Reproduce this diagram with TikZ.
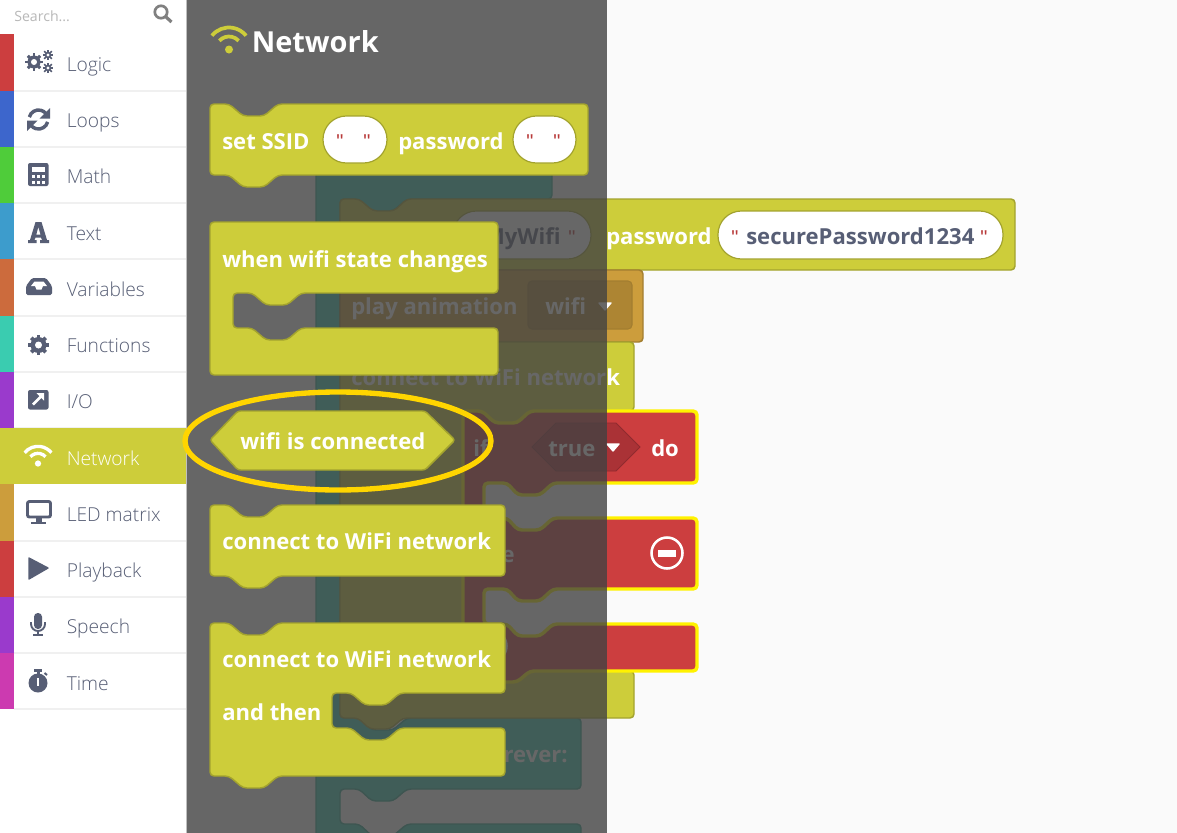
\documentclass[tikz,border=0pt]{standalone}
\usepackage{fontspec}
\setmainfont{Open Sans}
\newfontfamily\lightf{Open Sans Light}
\newfontfamily\qf{Liberation Sans}
\definecolor{icon}{HTML}{575E75}
\definecolor{netc}{HTML}{CDCD3A}
\definecolor{nets}{HTML}{A3A32E}
\definecolor{tealc}{HTML}{3ACCB0}
\definecolor{teals}{HTML}{2EA38D}
\definecolor{orac}{HTML}{CC9D3C}
\definecolor{oras}{HTML}{A37E30}
\definecolor{orad}{HTML}{AD8533}
\definecolor{redc}{HTML}{CC3E3F}
\definecolor{redd}{HTML}{AA3236}
\definecolor{selc}{HTML}{FFF200}
\definecolor{gold}{HTML}{FFD500}
\definecolor{quot}{HTML}{B83A3A}
\tikzset{
  x=0.75pt,y=-0.75pt,
  blk/.style={fill=netc,draw=nets,line width=1.1pt,rounded corners=3pt},
  tealblk/.style={fill=tealc,draw=teals,line width=1.1pt,rounded corners=3pt},
  orablk/.style={fill=orac,draw=oras,line width=1.1pt,rounded corners=3pt},
  redblk/.style={fill=redc,draw=selc,line width=2.6pt,rounded corners=3pt},
  field/.style={fill=white,draw=nets,line width=0.9pt,rounded corners=17.5pt},
  btxt/.style={anchor=base west,inner sep=0pt,text=white,font=\fontsize{16.55pt}{20pt}\bfseries},
  ftxt/.style={btxt,text=icon},
  qt/.style={anchor=base,inner sep=0pt,text=quot,font=\fontsize{15pt}{18pt}\qf},
  side/.style={anchor=base west,inner sep=0pt,text=icon,font=\fontsize{14.4pt}{17pt}\lightf},
  sep/.style={draw=black!6!white,line width=0.9pt},
  tri/.style={fill=white,draw=white,line width=1pt,line join=round},
}
\newcommand\stackblock[6]{% style, x, y, w, h, id (unused)
  \draw[#1] (#2,#3) -- ++(19,0) -- ++(14,12) -- ++(21,0) -- ++(14,-12) -- (#2+#4,#3) -- (#2+#4,#3+#5)
     -- (#2+68,#3+#5) -- ++(-14,12) -- ++(-21,0) -- ++(-14,-12) -- (#2,#3+#5) -- cycle;}
\newcommand\wifiicon[5]{% x,y(dot),scale,colour,width
  \fill[#4] (#1,#2) circle ({4*#3});
  \draw[#4,line width=#5] (#1,#2) ++(219:{22*#3}) arc (219:321:{22*#3});
  \draw[#4,line width=#5] (#1,#2) ++(222:{13*#3}) arc (222:318:{13*#3});}
\newcommand\gearicon[5]{% x,y,r,hole,teeth width
  \foreach \a in {0,45,...,315}{\draw[icon,line width=#5] (#1,#2) -- ++(\a:{#3+2.2});}
  \fill[icon] (#1,#2) circle (#3);
  \fill[white] (#1,#2) circle (#4);}
\begin{document}
\begin{tikzpicture}
\useasboundingbox (0,0) rectangle (1177,832);
\fill[white] (-5,-5) rectangle (1185,840);
\fill[black!2!white] (187,-5) rectangle (1185,840);
% ---------- workspace blocks (beneath the flyout) ----------
\draw[tealblk] (316,130) -- (552,130) -- (552,199) -- (407,199) -- (393,211) -- (372,211) -- (359,199) -- (340,199)
  -- (340,718) -- (359,718) -- (372,730) -- (393,730) -- (407,718) -- (581,718) -- (581,789)
  -- (407,789) -- (393,801) -- (372,801) -- (359,789) -- (340,789) -- (340,824) -- (359,824)
  -- (372,836) -- (393,836) -- (407,824) -- (581,824) -- (581,838) -- (316,838) -- cycle;
\node[btxt,anchor=base east] (foreverlbl) at (568,762) {forever:};
% set SSID
\draw[blk] (340,199) -- (359,199) -- (373,211) -- (394,211) -- (407,199) -- (1015,199) -- (1015,270) -- (340,270) -- cycle;
\draw[field] (453,211) rectangle (591,259);
\node[ftxt,anchor=base east] (mywifi) at (561,244) {MyWifi};
\node[qt] (q1) at (572,244) {"};
\node[btxt] (pw2) at (606,244) {password};
\draw[field] (718,211) rectangle (1003,259);
\node[qt] (q2) at (735,244) {"};
\node[ftxt] (secpw) at (746,244) {securePassword1234};
\node[qt] (q3) at (984,244) {"};
% play animation
\draw[orablk] (340,270) rectangle (643,342);
\draw[fill=orad,draw=oras,line width=.8pt,rounded corners=3pt] (528,281) rectangle (632,329);
\node[btxt] (playanim) at (351,314) {play animation};
\node[btxt] (wifiopt) at (545,314) {wifi};
\draw[tri] (599,303) -- (611,303) -- (605,310) -- cycle;
% connect C block
\draw[blk] (340,342) -- (634,342) -- (634,411) -- (530,411) -- (517,423) -- (495,423) -- (482,411) -- (463,411)
  -- (463,671) -- (482,671) -- (495,682) -- (517,682) -- (530,671) -- (634,671) -- (634,718)
  -- (403,718) -- (390,729) -- (370,729) -- (358,718) -- (340,718) -- cycle;
\node[btxt] (connbg) at (351,385) {connect to WiFi network};
% red if/else block
\draw[redblk] (463,411) -- (482,411) -- (495,423) -- (517,423) -- (530,411) -- (697,411) -- (697,483)
  -- (553,483) -- (540,495) -- (518,495) -- (507,483) -- (484,483) -- (484,518) -- (507,518)
  -- (518,530) -- (540,530) -- (553,518) -- (697,518) -- (697,589) -- (553,589) -- (540,601)
  -- (518,601) -- (507,589) -- (484,589) -- (484,624) -- (507,624) -- (518,636) -- (540,636)
  -- (553,624) -- (697,624) -- (697,671) -- (530,671) -- (517,682) -- (495,682) -- (482,671) -- (463,671) -- cycle;
\draw[fill=redd,draw=redd!85!black,line width=.6pt] (532,447) -- (556,423) -- (616,423) -- (640,447) -- (616,471) -- (556,471) -- cycle;
\node[btxt] (iflbl) at (473,456) {if};
\node[btxt] (truelbl) at (548,456) {true};
\draw[tri] (607,444) -- (619,444) -- (613,451) -- cycle;
\node[btxt] (dolbl) at (651,456) {do};
\node[btxt,anchor=base east] (elselbl) at (515,562) {else};
\draw[white,line width=1.9pt] (667,553) circle (15.5);
\fill[white] (658,549.5) rectangle (676,556.5);
\draw[white,line width=1.9pt] (491,646) circle (15.5);
% ---------- flyout veil ----------
\fill[black!74!white,fill opacity=0.8] (187,-5) rectangle (607,840);
% ---------- sidebar ----------
\fill[white] (-5,-5) rectangle (186,840);
\draw[black!25!white,line width=.75pt] (186.5,-5) -- (186.5,840);
\node[anchor=base west,inner sep=0pt,text=black!28!white,font=\fontsize{10.6pt}{13pt}\selectfont] (search) at (14,21) {Search...};
\draw[black!50!white,line width=2pt] (161,12) circle (6.2);
\draw[black!50!white,line width=2.4pt] (165.5,16.5) -- (171.5,22);
\foreach \ya/\yb/\c/\nm in {34/91/CC3E3F/a,91/147/3D66CC/b,147/203/4FCC3A/c,203/259/3D9CCC/d,259/316/CC6B3D/e,316/372/3ACCB0/f,372/428/9A3ACC/g,484/541/CC9D3C/h,541/597/CC3E3F/i,597/653/9A3ACC/j,653/709/CC3AB0/k}{
  \definecolor{tmpc}{HTML}{\c}
  \fill[tmpc] (0,\ya) rectangle (14,\yb);
  \draw[sep] (14,\yb) -- (186,\yb);
}
\fill[netc] (0,428) rectangle (186,484);
\node[side] (logic) at (66.5,71) {Logic};
\node[side] (loops) at (66.5,127) {Loops};
\node[side] (math) at (66.5,183) {Math};
\node[side] (text) at (66.5,240) {Text};
\node[side] (vars) at (66.5,296) {Variables};
\node[side] (funcs) at (66.5,352) {Functions};
\node[side] (io) at (66.5,408) {I/O};
\node[side,text=white] (netw) at (66.5,465) {Network};
\node[side] (led) at (66.5,521) {LED matrix};
\node[side] (playb) at (66.5,577) {Playback};
\node[side] (speech) at (66.5,633) {Speech};
\node[side] (time) at (66.5,690) {Time};
% icons
\gearicon{34}{62}{6.5}{3}{2.2pt}
\gearicon{48}{55}{3.2}{1.6}{1.2pt}
\gearicon{48}{68}{3.2}{1.6}{1.2pt}
\draw[icon,line width=2.6pt] (38.5,119.5) ++(195:9.5) arc (195:320:9.5);
\draw[icon,line width=2.6pt] (38.5,119.5) ++(15:9.5) arc (15:140:9.5);
\fill[icon] (50,108) -- (50,118.5) -- (39.5,118.5) -- cycle;
\fill[icon] (27,131) -- (27,120.5) -- (37.5,120.5) -- cycle;
\fill[icon,rounded corners=1.5pt] (28,163) rectangle (48.5,186);
\fill[white] (31.5,167) rectangle (45,172);
\foreach \bx in {31.5,36.5,41.5}{\foreach \by in {175,180.5}{\fill[white] (\bx,\by) rectangle ++(3.5,3.2);}}
\fill[icon,even odd rule] (35.5,222) -- (41.5,222) -- (47,240) -- (49,240) -- (49,243) -- (40,243) -- (40,240) -- (42,240) -- (41,237.5) -- (35.5,237.5) -- (34.5,240) -- (36.5,240) -- (36.5,243) -- (28,243) -- (28,240) -- (30,240) -- cycle (38.3,227) -- (36.3,234.5) -- (40.5,234.5) -- cycle;
\fill[icon,rounded corners=1.2pt] (26,286) -- (32,278) -- (46,278) -- (52,286) -- (52,295) -- (26,295) -- cycle;
\fill[white] (31,286) -- (34.5,281.5) -- (43.5,281.5) -- (47,286) -- (43,286) -- (41.5,289.5) -- (36.5,289.5) -- (35,286) -- cycle;
\gearicon{38.5}{345}{8}{3.5}{2.8pt}
\fill[icon,rounded corners=1.5pt] (28,390) rectangle (48.5,409.5);
\draw[white,line width=2pt] (33,404.5) -- (41,396.5);
\fill[white] (36.5,393) -- (44,393) -- (44,400.5) -- cycle;
\wifiicon{38}{463.5}{.78}{white}{2.5pt}
\wifiicon{229}{49.5}{1}{netc}{2.8pt}
\draw[icon,line width=2.2pt,fill=white,rounded corners=1.5pt] (27.5,501.5) rectangle (50.5,517);
\fill[icon] (35.5,517) rectangle (41.5,522);
\fill[icon] (31,521.5) rectangle (46,524);
\draw[icon,fill=icon,line width=1pt,line join=round] (29,558) -- (48,568) -- (29,579) -- cycle;
\fill[icon,rounded corners=2.8pt] (34,613) rectangle (42,629);
\draw[icon,line width=1.4pt] (31,622) -- (31,624) arc (180:0:7) -- (45,622);
\draw[icon,line width=1.5pt] (38,631) -- (38,635);
\draw[icon,line width=1.5pt] (33,635) -- (43,635);
\fill[icon] (38,683) circle (9.5);
\fill[icon] (34,669) rectangle (42,671.5);
\fill[icon] (36.5,671) rectangle (39.5,675);
\draw[icon,line width=1.5pt] (44.5,673) -- (47,675);
\fill[white] (36.7,677.5) rectangle (39.3,686);
% ---------- flyout blocks ----------
\node[anchor=base west,inner sep=0pt,text=white,font=\fontsize{21.7pt}{26pt}\bfseries] (title) at (251.5,52) {Network};
\stackblock{blk}{210}{104}{378}{71}{a}
\draw[field] (323,116) rectangle (387,163);
\draw[field] (513,116) rectangle (576,163);
\node[btxt] (setssid) at (222,149) {set SSID};
\node[qt] (f1a) at (340,148) {"};
\node[qt] (f1b) at (367,148) {"};
\node[btxt] (pw1) at (398,149) {password};
\node[qt] (f2a) at (530,148) {"};
\node[qt] (f2b) at (557,148) {"};
\draw[blk] (210,222) -- (498,222) -- (498,293) -- (301,293) -- (287,305) -- (266,305) -- (252,293) -- (233,293)
  -- (233,328) -- (252,328) -- (266,340) -- (287,340) -- (301,328) -- (498,328) -- (498,375) -- (210,375) -- cycle;
\node[btxt] (whenwifi) at (222,267) {when wifi state changes};
\draw[blk,rounded corners=2pt] (210,440) -- (238,411) -- (425,411) -- (455,440) -- (425,470) -- (238,470) -- cycle;
\node[btxt] (isconn) at (240,449) {wifi is connected};
\draw[gold,line width=4pt] (338,441) ellipse (153 and 49);
\stackblock{blk}{210}{505}{295}{71}{b}
\node[btxt] (conn1) at (222,549) {connect to WiFi network};
\draw[blk] (210,623) -- (229,623) -- (243,635) -- (264,635) -- (278,623) -- (505,623) -- (505,693) -- (400,693) -- (386,705) -- (365,705) -- (351,693) -- (332,693)
  -- (332,728) -- (351,728) -- (365,740) -- (386,740) -- (400,728) -- (505,728) -- (505,776) -- (278,776) -- (264,788) -- (243,788) -- (229,776) -- (210,776) -- cycle;
\node[btxt] (conn2) at (222,667) {connect to WiFi network};
\node[btxt] (andthen) at (222,720) {and then};
\end{tikzpicture}
\end{document}
